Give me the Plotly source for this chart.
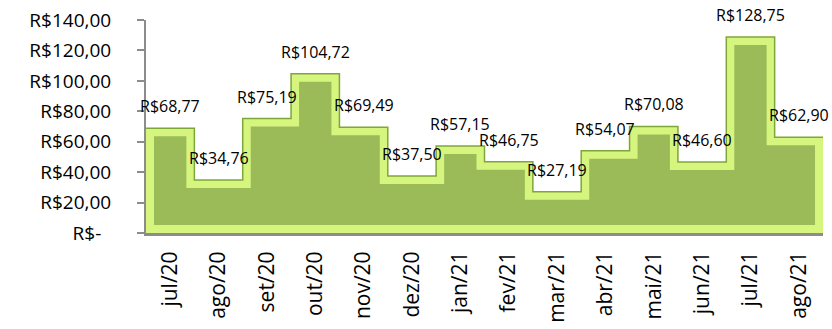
import plotly.graph_objects as go

# Monthly amounts (R$)
months = ["jul/20", "ago/20", "set/20", "out/20", "nov/20", "dez/20", "jan/21",
          "fev/21", "mar/21", "abr/21", "mai/21", "jun/21", "jul/21", "ago/21"]
values = [68.77, 34.76, 75.19, 104.72, 69.49, 37.50, 57.15,
          46.75, 27.19, 54.07, 70.08, 46.60, 128.75, 62.90]

y_ticks = [0, 20, 40, 60, 80, 100, 120, 140]


def brl(v):
    if v == 0:
        return "R$-\u00a0\u00a0"
    return "R$" + f"{v:.2f}".replace(".", ",")


n = len(values)
W, H = 832, 329
M = dict(l=146, r=9, t=20, b=96)
plot_w = W - M["l"] - M["r"]
plot_h = H - M["t"] - M["b"]
y_max = 140

# bevel thickness converted from pixels to data units
bevel_px = 8
dx = bevel_px * n / plot_w
dy = bevel_px * y_max / plot_h

# outer step outline: each month spans its whole category band
x_edges = [i - 0.5 for i in range(n)] + [n - 0.5]
y_outer = values + [values[-1]]

# inner (eroded) face of the bevelled area
px_in = [-0.5 + dx]
py_in = [values[0] - dy]
for i in range(n - 1):
    b = i + 0.5
    xs = b - dx if values[i] > values[i + 1] else b + dx
    px_in += [xs, xs]
    py_in += [values[i] - dy, values[i + 1] - dy]
px_in += [n - 0.5 - dx, n - 0.5 - dx, -0.5 + dx, -0.5 + dx]
py_in += [values[-1] - dy, dy, dy, values[0] - dy]

fig = go.Figure()
fig.add_trace(go.Scatter(
    x=x_edges, y=y_outer, mode="lines", line_shape="hv",
    fill="tozeroy", fillcolor="#D6F57F",
    line=dict(color="#7FA63A", width=1.5),
    hoverinfo="skip", showlegend=False,
))
fig.add_trace(go.Scatter(
    x=px_in, y=py_in, mode="lines", fill="toself",
    fillcolor="#9BBB59", line=dict(width=0, color="#9BBB59"),
    hoverinfo="skip", showlegend=False,
))

for i, v in enumerate(values):
    fig.add_annotation(
        x=i, y=v, text=brl(v), showarrow=False, yshift=22,
        font=dict(family="Open Sans", size=16, color="#000000"),
    )

fig.update_layout(
    width=W, height=H, margin=M,
    paper_bgcolor="white", plot_bgcolor="white",
    font=dict(family="Open Sans", color="#000000"),
    xaxis=dict(
        range=[-0.5, n - 0.5], tickvals=list(range(n)), ticktext=months,
        tickangle=-90, showgrid=False, zeroline=False, automargin=False,
        showline=True, linecolor="#8C8C8C", linewidth=3,
        ticks="", ticklabelstandoff=7,
        tickfont=dict(family="Open Sans", size=21, color="#000000"),
    ),
    yaxis=dict(
        range=[0, y_max], tickvals=y_ticks, ticktext=[brl(v) for v in y_ticks],
        showgrid=False, zeroline=False, automargin=False,
        showline=True, linecolor="#8C8C8C", linewidth=2,
        ticks="outside", ticklen=7, tickwidth=2, tickcolor="#8C8C8C",
        ticklabelstandoff=22,
        tickfont=dict(family="Open Sans", size=19, color="#000000"),
    ),
)

fig.write_html("out.html")
